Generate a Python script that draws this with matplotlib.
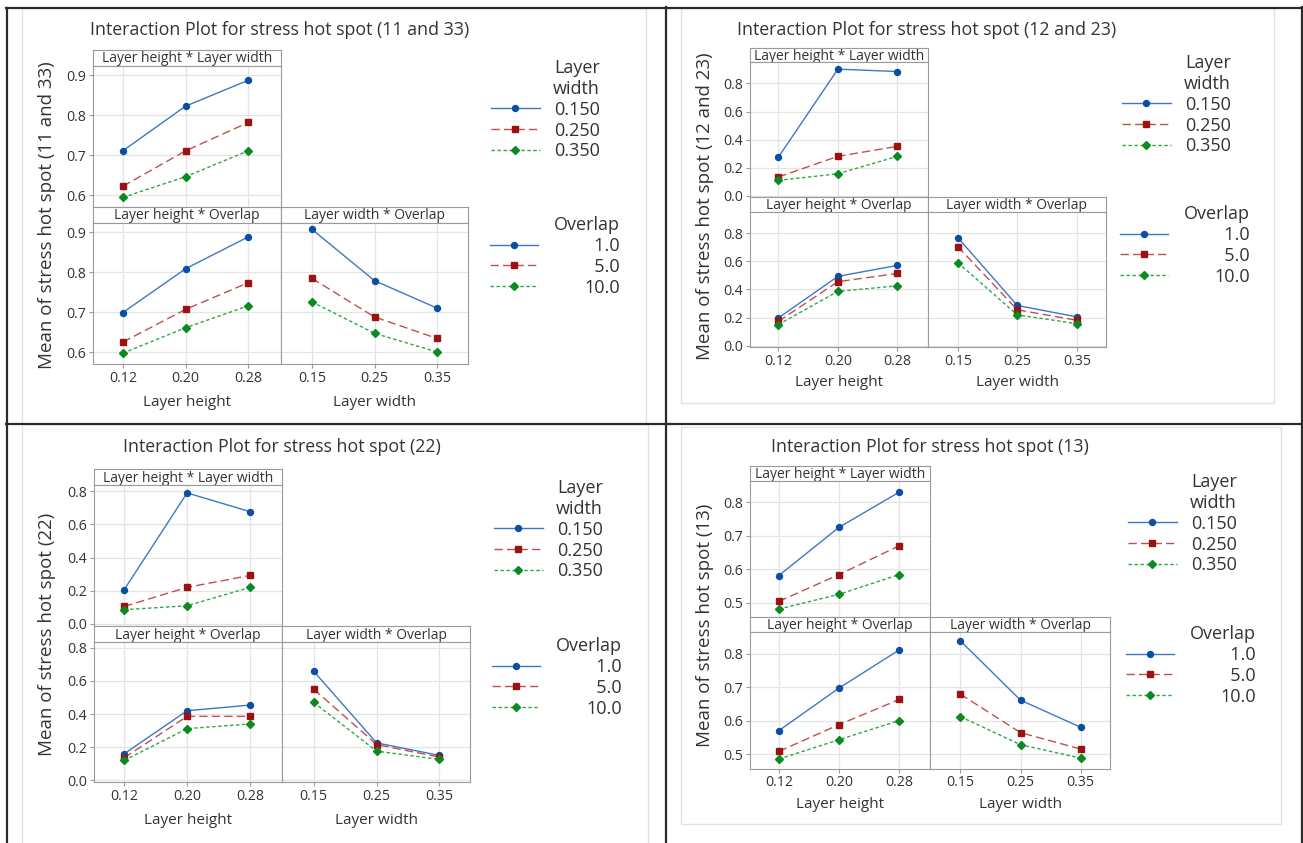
import matplotlib.pyplot as plt
from matplotlib.lines import Line2D
from matplotlib.patches import Rectangle

W, H = 1303, 843
plt.rcParams['font.family'] = ['Open Sans', 'DejaVu Sans']

layer_height = [0.12, 0.20, 0.28]
layer_width = [0.15, 0.25, 0.35]
height_ticks = ['0.12', '0.20', '0.28']
width_ticks = ['0.15', '0.25', '0.35']
width_labels = ['0.150', '0.250', '0.350']
overlap_labels = ['1.0', '5.0', '10.0']

# rows: layer width 0.150 / 0.250 / 0.350  (hw)  or  overlap 1.0 / 5.0 / 10.0  (ho, wo)
s11_33_hw = [[0.711, 0.823, 0.888], [0.622, 0.711, 0.782], [0.594, 0.646, 0.711]]
s11_33_ho = [[0.699, 0.809, 0.889], [0.625, 0.707, 0.774], [0.597, 0.661, 0.716]]
s11_33_wo = [[0.908, 0.779, 0.710], [0.785, 0.688, 0.634], [0.726, 0.647, 0.600]]

s12_23_hw = [[0.275, 0.902, 0.885], [0.135, 0.282, 0.353], [0.111, 0.158, 0.282]]
s12_23_ho = [[0.197, 0.493, 0.571], [0.173, 0.455, 0.514], [0.150, 0.386, 0.426]]
s12_23_wo = [[0.769, 0.286, 0.205], [0.705, 0.255, 0.181], [0.591, 0.219, 0.157]]

s22_hw = [[0.206, 0.790, 0.677], [0.105, 0.220, 0.292], [0.085, 0.109, 0.220]]
s22_ho = [[0.160, 0.420, 0.454], [0.136, 0.386, 0.386], [0.120, 0.312, 0.340]]
s22_wo = [[0.658, 0.226, 0.150], [0.550, 0.216, 0.140], [0.470, 0.176, 0.126]]

s13_hw = [[0.581, 0.725, 0.830], [0.504, 0.584, 0.670], [0.481, 0.525, 0.584]]
s13_ho = [[0.570, 0.697, 0.811], [0.508, 0.588, 0.663], [0.485, 0.543, 0.600]]
s13_wo = [[0.838, 0.661, 0.580], [0.679, 0.564, 0.515], [0.612, 0.528, 0.488]]

line_colors = ['#3f77c6', '#c0504d', '#2fa84a']
mark_colors = ['#0a4fa3', '#9c1111', '#0b8a22']
markers = ['o', 's', 'D']
styles = ['-', (0, (6, 3)), (0, (2.5, 1.8))]
msizes = [4.3, 4.6, 4.0]
TXT = '#333333'
FRAME = '#9a9a9a'

fig = plt.figure(figsize=(W / 100, H / 100), dpi=100)


def box(x, y, w, h):
    return [x / W, 1 - (y + h) / H, w / W, h / H]


def header(x, y, w, h, text):
    hax = fig.add_axes(box(x, y, w, h))
    hax.set_xticks([])
    hax.set_yticks([])
    for s in hax.spines.values():
        s.set_color(FRAME)
    hax.text(0.5, 0.42, text, ha='center', va='center', fontsize=10, color=TXT,
             transform=hax.transAxes)


def plot_axes(x, y, w, h, xs, xlim, ylim, yticks, rows, xlabels=None, ylabels=True):
    ax = fig.add_axes(box(x, y, w, h))
    for i, ys in enumerate(rows):
        ax.plot(xs, ys, linestyle=styles[i], color=line_colors[i], lw=1.0,
                marker=markers[i], ms=msizes[i], mfc=mark_colors[i], mec=mark_colors[i])
    ax.set_xlim(xlim)
    ax.set_ylim(ylim)
    ax.set_xticks(xs)
    ax.set_yticks(yticks)
    ax.grid(True, color='#e4e4e4', lw=0.9)
    ax.set_axisbelow(True)
    for s in ax.spines.values():
        s.set_color(FRAME)
    ax.tick_params(colors=FRAME, labelcolor=TXT, length=3, width=0.8, labelsize=10.2, pad=2)
    if xlabels is None:
        ax.tick_params(axis='x', length=0, labelbottom=False)
    else:
        ax.set_xticklabels(xlabels)
    if ylabels:
        ax.set_yticklabels([f'{t:.1f}' for t in yticks])
    else:
        ax.tick_params(axis='y', length=0, labelleft=False)
    return ax


def legend(handles, labels, title, right, top, pad):
    leg = fig.legend(handles, labels, title=title, loc='upper right',
                     bbox_to_anchor=(right / W, 1 - top / H), frameon=False,
                     fontsize=13, title_fontsize=13, borderpad=0, handlelength=2.7,
                     handletextpad=pad, labelspacing=0.16, alignment='right')
    leg.get_title().set_multialignment('right')
    leg.get_title().set_color(TXT)
    for t in leg.get_texts():
        t.set_color(TXT)


def draw_panel(p, title, ylabel, hw, ho, wo):
    x0, w, y0, hh, ph = p['x0'], p['w'], p['y0'], p['hh'], p['ph']
    ylim, yticks = p['ylim'], p['yticks']
    header(x0, y0, w, hh, 'Layer height * Layer width')
    plot_axes(x0, y0 + hh, w, ph, layer_height, (0.082, 0.321), ylim, yticks, hw)
    y1 = y0 + hh + ph
    header(x0, y1, w, hh, 'Layer height * Overlap')
    header(x0 + w, y1, w, hh, 'Layer width * Overlap')
    plot_axes(x0, y1 + hh, w, ph, layer_height, (0.082, 0.321), ylim, yticks, ho,
              xlabels=height_ticks)
    plot_axes(x0 + w, y1 + hh, w, ph, layer_width, (0.10, 0.399), ylim, yticks, wo,
              xlabels=width_ticks, ylabels=False)

    tx, ty = p['title']
    fig.text(tx / W, 1 - ty / H, title, ha='center', va='center', fontsize=12.8, color=TXT)
    lx, ly = p['ylab']
    fig.text(lx / W, 1 - ly / H, ylabel, ha='center', va='center', rotation=90,
             fontsize=13.5, color=TXT)
    xy = p['xlab']
    fig.text((x0 + w / 2) / W, 1 - xy / H, 'Layer height', ha='center', va='center',
             fontsize=11, color=TXT)
    fig.text((x0 + 1.5 * w) / W, 1 - xy / H, 'Layer width', ha='center', va='center',
             fontsize=11, color=TXT)

    handles = [Line2D([], [], linestyle=styles[i], color=line_colors[i], lw=1.0,
                      marker=markers[i], ms=msizes[i], mfc=mark_colors[i],
                      mec=mark_colors[i]) for i in range(3)]
    r1, t1 = p['leg1']
    legend(handles, width_labels, 'Layer\nwidth', r1, t1, 0.8)
    r2, t2 = p['leg2']
    legend(handles, ['\u2007' + overlap_labels[0], '\u2007' + overlap_labels[1], overlap_labels[2]],
           'Overlap', r2, t2, 2.55)


panels = [
    dict(x0=93, w=187.5, y0=50, hh=15.5, ph=141.5, ylim=(0.57, 0.925),
         yticks=[0.6, 0.7, 0.8, 0.9], title=(280, 30), ylab=(47, 215), xlab=402,
         leg1=(609, 50), leg2=(629, 207)),
    dict(x0=750, w=178, y0=47.7, hh=14.7, ph=135, ylim=(-0.01, 0.95),
         yticks=[0.0, 0.2, 0.4, 0.6, 0.8], title=(927, 30), ylab=(705, 206), xlab=383,
         leg1=(1240, 45), leg2=(1259, 196)),
    dict(x0=94.3, w=188, y0=469.3, hh=16, ph=140.5, ylim=(-0.012, 0.836),
         yticks=[0.0, 0.2, 0.4, 0.6, 0.8], title=(282, 447), ylab=(47, 634), xlab=820,
         leg1=(612, 470), leg2=(631, 628)),
    dict(x0=750.2, w=180, y0=465.7, hh=15, ph=136.4, ylim=(0.457, 0.864),
         yticks=[0.5, 0.6, 0.7, 0.8], title=(930, 447), ylab=(705, 625), xlab=804,
         leg1=(1246, 464), leg2=(1265, 616)),
]

draw_panel(panels[0], 'Interaction Plot for stress hot spot (11 and 33)',
           'Mean of stress hot spot (11 and 33)', s11_33_hw, s11_33_ho, s11_33_wo)
draw_panel(panels[1], 'Interaction Plot for stress hot spot (12 and 23)',
           'Mean of stress hot spot (12 and 23)', s12_23_hw, s12_23_ho, s12_23_wo)
draw_panel(panels[2], 'Interaction Plot for stress hot spot (22)',
           'Mean of stress hot spot (22)', s22_hw, s22_ho, s22_wo)
draw_panel(panels[3], 'Interaction Plot for stress hot spot (13)',
           'Mean of stress hot spot (13)', s13_hw, s13_ho, s13_wo)

# light frames of the four screenshots
for (x, y, w, h) in [(22, 8, 624, 416), (681, 8, 593, 395), (22, 424, 626, 430), (681, 427, 600, 397)]:
    fig.add_artist(Rectangle((x / W, 1 - (y + h) / H), w / W, h / H, fill=False,
                             edgecolor='#e2e2e2', lw=1.0, transform=fig.transFigure))

# black dividing lines
for (xa, ya, xb, yb) in [(6.5, 7.5, 6.5, 843), (6, 7.5, 1303, 7.5), (665.5, 7, 665.5, 843),
                         (6, 424, 1303, 424), (1301.5, 7, 1301.5, 843)]:
    fig.add_artist(Line2D([xa / W, xb / W], [1 - ya / H, 1 - yb / H], color='#2a2a2a',
                          lw=1.6, transform=fig.transFigure))

fig.savefig('out.png', dpi=100, facecolor='white')
